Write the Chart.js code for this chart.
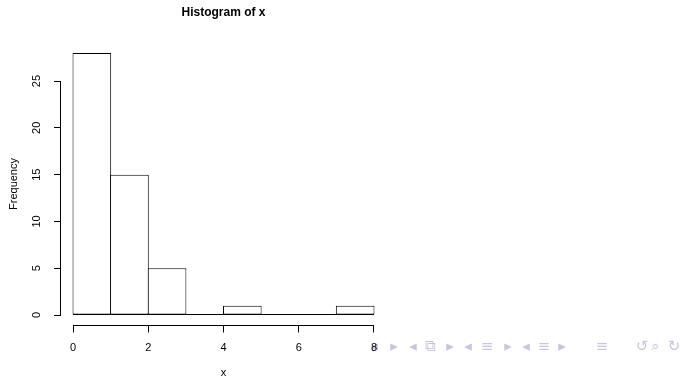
<!DOCTYPE html>
<html>
<head>
<meta charset="utf-8">
<script src="https://cdn.jsdelivr.net/npm/chart.js@4"></script>
<style>
  html, body { margin: 0; padding: 0; background: #fff; }
  canvas { display: block; }
</style>
</head>
<body>
<canvas id="histChart" width="682" height="378"></canvas>
<script>
// данные гистограммы
const binEdges = [0, 1, 2, 3, 4, 5, 6, 7, 8];
const counts = [28, 15, 5, 0, 1, 0, 0, 1];
const xTicks = [0, 2, 4, 6, 8];
const yTicks = [0, 5, 10, 15, 20, 25];
const titleText = 'Histogram of x';
const xLabel = 'x';
const yLabel = 'Frequency';
const navSymbols = ['◂', '▸', '◂', '⧉', '▸', '◂', '≡', '▸', '◂', '≡', '▸', '≡', '↺', '⌕', '↻'];

const FONT = '"Liberation Sans", Arial, Helvetica, sans-serif';

// навигационные символы beamer — под подписями осей
const navDecor = {
  id: 'navDecor',
  beforeDraw(chart) {
    const ctx = chart.ctx;
    ctx.save();
    ctx.fillStyle = '#c6c6de';
    ctx.font = '15px "DejaVu Sans", sans-serif';
    ctx.textAlign = 'center';
    ctx.textBaseline = 'middle';
    const navX = [374, 394, 413, 430, 450, 468, 487, 508, 526, 544, 562, 602, 642, 655, 674];
    navSymbols.forEach((s, i) => ctx.fillText(s, navX[i], 347));
    ctx.restore();
  }
};

// оси, подписи и заголовок в стиле R
const rDecor = {
  id: 'rDecor',
  afterDraw(chart) {
    const { ctx, chartArea, scales } = chart;
    const xs = scales.x, ys = scales.y;
    ctx.save();
    ctx.strokeStyle = '#000';
    ctx.lineWidth = 1;

    // линия основания под столбцами
    const y0 = Math.round(ys.getPixelForValue(0)) + 0.5;
    ctx.beginPath();
    ctx.moveTo(xs.getPixelForValue(binEdges[0]), y0 - 1);
    ctx.lineTo(xs.getPixelForValue(binEdges[binEdges.length - 1]), y0 - 1);
    ctx.stroke();

    // линии осей (от первой до последней метки)
    const ax = chartArea.left - 0.5;
    ctx.beginPath();
    ctx.moveTo(ax, ys.getPixelForValue(yTicks[0]));
    ctx.lineTo(ax, ys.getPixelForValue(yTicks[yTicks.length - 1]));
    ctx.stroke();
    const ay = chartArea.bottom;
    ctx.beginPath();
    ctx.moveTo(xs.getPixelForValue(xTicks[0]), ay);
    ctx.lineTo(xs.getPixelForValue(xTicks[xTicks.length - 1]), ay);
    ctx.stroke();

    // подписи оси Y, повёрнутые как в R
    ctx.fillStyle = '#000';
    ctx.font = '11px ' + FONT;
    ctx.textAlign = 'center';
    ctx.textBaseline = 'middle';
    yTicks.forEach(v => {
      ctx.save();
      ctx.translate(37, ys.getPixelForValue(v));
      ctx.rotate(-Math.PI / 2);
      ctx.fillText(String(v), 0, 0);
      ctx.restore();
    });

    const midX = (chartArea.left + chartArea.right) / 2;
    const midY = (chartArea.top + chartArea.bottom) / 2;

    // названия осей
    ctx.save();
    ctx.translate(14, midY);
    ctx.rotate(-Math.PI / 2);
    ctx.fillText(yLabel, 0, 0);
    ctx.restore();
    ctx.fillText(xLabel, midX, 373);

    // заголовок
    ctx.font = 'bold 12px ' + FONT;
    ctx.fillText(titleText, midX, 13);

    ctx.restore();
  }
};

const ctx = document.getElementById('histChart').getContext('2d');
const histChart = new Chart(ctx, {
  type: 'bar',
  data: {
    datasets: [{
      data: counts.map((c, i) => ({ x: (binEdges[i] + binEdges[i + 1]) / 2, y: c })),
      backgroundColor: '#ffffff',
      borderColor: '#000000',
      borderWidth: 1,
      borderSkipped: false,
      barPercentage: 1.027,
      categoryPercentage: 1
    }]
  },
  options: {
    responsive: false,
    animation: false,
    devicePixelRatio: 1,
    layout: { padding: { top: 42.5, right: 296, left: 0, bottom: 0 } },
    plugins: {
      legend: { display: false },
      title: { display: false },
      tooltip: { enabled: false }
    },
    scales: {
      x: {
        type: 'linear',
        min: -0.32,
        max: 8.32,
        offset: false,
        afterBuildTicks: s => { s.ticks = xTicks.map(v => ({ value: v })); },
        afterFit: s => { s.height = 52.5; },
        border: { display: false },
        grid: { offset: false, drawOnChartArea: false, drawTicks: true, tickLength: 7, color: '#000', lineWidth: 1 },
        ticks: { color: '#000', font: { family: FONT, size: 11 }, padding: 9, maxRotation: 0, autoSkip: false }
      },
      y: {
        min: -1.12,
        max: 29.12,
        afterBuildTicks: s => { s.ticks = yTicks.map(v => ({ value: v })); },
        afterFit: s => { s.width = 61; },
        border: { display: false },
        grid: { drawOnChartArea: false, drawTicks: true, tickLength: 7, color: '#000', lineWidth: 1 },
        ticks: { display: false }
      }
    }
  },
  plugins: [navDecor, rDecor]
});
</script>
</body>
</html>
